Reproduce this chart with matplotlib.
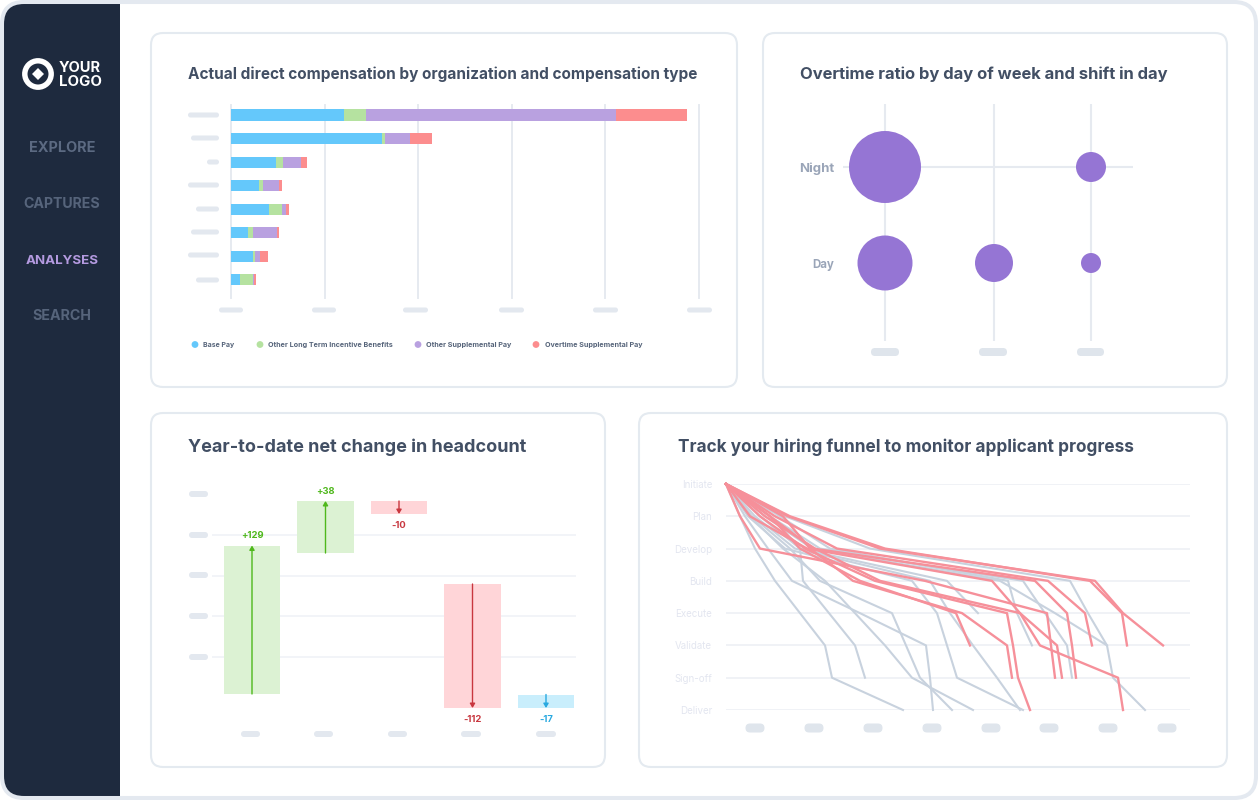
import matplotlib
matplotlib.use("Agg")
import matplotlib.pyplot as plt
from matplotlib.patches import FancyBboxPatch, Rectangle, Circle, Polygon
import numpy as np

W, H = 1258, 800
FONT = ["Inter", "Lato", "DejaVu Sans"]
plt.rcParams["font.family"] = FONT

# ---------- chart 1
orgs = list(range(8))
base_pay = [121, 161, 48, 30, 41, 18, 23, 10]
long_term = [23, 3, 8, 4, 14, 5, 3, 14]
supplemental = [267, 27, 19, 17, 4, 26, 5, 1]
overtime = [76, 24, 6, 4, 3, 2, 8, 2]
comp_names = ["Base Pay", "Other Long Term Incentive Benefits", "Other Supplemental Pay", "Overtime Supplemental Pay"]
comp_colors = ["#64c8fb", "#b5e2a0", "#b9a1e0", "#fc8d8e"]
comp_ticks = [0, 100, 200, 300, 400, 500]

# ---------- chart 2
bubble_rows = ["Night", "Day"]
bubble_cols = [0, 109, 206]
night_size = [36, 0, 15]
day_size = [27.5, 19, 10]

# ---------- chart 3
wf_low = [14, 155, 194, 0, 0]
wf_high = [162.5, 207, 207, 124, 13.5]
wf_dir = [1, 1, -1, -1, -1]
wf_text = ["+129", "+38", "-10", "-112", "-17"]
wf_ticks = [51, 92, 132, 173, 214]

# ---------- chart 4
stages = ["Initiate", "Plan", "Develop", "Build", "Execute", "Validate", "Sign-off", "Deliver"]
gray_paths = [
    [14, 29, 49, 74, 99, 106, 177],
    [44, 74, 77, 103, 129, 139],
    [19, 42, 66, 134, 200, 204, 207],
    [24, 57, 99, 129, 159, 186, 247],
    [26, 64, 94, 166, 180, 194, 226],
    [22, 59, 186, 211, 221, 231, 297],
    [29, 69, 204, 224, 247, 271, 294],
    [34, 74, 221, 252],
    [54, 104, 282, 291, 306],
    [59, 144, 344, 362, 381, 387, 419],
    [44, 94, 297, 319, 341, 346],
    [39, 86, 274, 329, 381],
]
red_paths = [
    [64, 159, 364, 396, 401],
    [62, 154, 369, 397, 437],
    [49, 111, 322, 359, 366],
    [44, 87, 309, 341, 346, 350],
    [24, 81, 266, 294, 314, 392, 397],
    [14, 34, 199, 321, 325, 329],
    [39, 89, 154, 294, 331, 336],
    [34, 79, 149, 281, 287, 292, 304],
    [57, 84, 127, 236, 281, 286],
    [44, 74, 134, 230, 244],
]

fig = plt.figure(figsize=(W / 100, H / 100), dpi=100, facecolor="white")
bg = fig.add_axes([0, 0, 1, 1])
bg.set_xlim(0, W)
bg.set_ylim(H, 0)
bg.axis("off")
renderer = fig.canvas.get_renderer()


def ptext(s, x, y, width=None, size=10, color="#424f64", ha="left", weight="bold"):
    t = bg.text(x, y, s, fontsize=size, color=color, ha=ha, va="center", fontweight=weight)
    if width:
        t.set_fontsize(size * width / t.get_window_extent(renderer).width)
    return t


def pill(x0, x1, y, h, color="#e3e8ef"):
    bg.add_patch(FancyBboxPatch((x0, y - h / 2), x1 - x0, h,
                                boxstyle=f"round,pad=0,rounding_size={h/2}", fc=color, ec=color, lw=0, zorder=3))


def make_ax(l, t, r, b):
    ax = fig.add_axes([l / W, 1 - b / H, (r - l) / W, (b - t) / H])
    ax.patch.set_alpha(0)
    for s in ax.spines.values():
        s.set_visible(False)
    ax.tick_params(length=0, labelbottom=False, labelleft=False)
    ax.set_axisbelow(True)
    return ax


def rbox(x0, y0, x1, y1, r, **kw):
    return FancyBboxPatch((x0 + r, y0 + r), x1 - x0 - 2 * r, y1 - y0 - 2 * r,
                          boxstyle=f"round,pad={r},rounding_size={r}", **kw)


# page
outer = rbox(2, 2, W - 2, H - 2, 22, fc="white", ec="none")
bg.add_patch(outer)
side = Rectangle((2, 2), 118, 796, fc="#1e2a3e", ec="none", zorder=1)
bg.add_patch(side)
side.set_clip_path(outer)
bg.add_patch(rbox(2, 2, W - 2, H - 2, 22, fc="none", ec="#e4e9f0", lw=2.9, zorder=6))

for x0, y0, x1, y1 in [(151, 33, 737, 387), (763, 33, 1227, 387), (151, 413, 605, 767), (639, 413, 1227, 767)]:
    bg.add_patch(rbox(x0, y0, x1, y1, 12, fc="white", ec="#e4eaf0", lw=1.5))

# sidebar
bg.add_patch(Circle((38, 74), 13.2, fc="none", ec="white", lw=3.9, zorder=4))
bg.add_patch(Polygon([(38, 68), (44, 74), (38, 80), (32, 74)], fc="white", ec="none", zorder=4))
ptext("YOUR", 59, 68, width=42, color="white").set_zorder(4)
ptext("LOGO", 59, 82, width=43, color="white").set_zorder(4)
for s, y, wd, c in [("EXPLORE", 148.5, 66, "#5c6a82"), ("CAPTURES", 204.5, 77, "#56647b"),
                    ("ANALYSES", 260.5, 73, "#b49ae0"), ("SEARCH", 316.5, 59, "#56647b")]:
    ptext(s, 62, y, width=wd, color=c, ha="center").set_zorder(4)

# titles
ptext("Actual direct compensation by organization and compensation type", 188, 74, width=508)
ptext("Overtime ratio by day of week and shift in day", 800, 74, width=370)
ptext("Year-to-date net change in headcount", 188, 447, width=338)
ptext("Track your hiring funnel to monitor applicant progress", 678, 447, width=455)

# ---------- chart 1
ax1 = make_ax(231, 105, 699, 298)
ax1.set_xlim(0, 500)
ax1.set_ylim((298 - 115) / 23.57, (105 - 115) / 23.57)
ax1.set_xticks(comp_ticks)
ax1.set_yticks([])
ax1.grid(axis="x", color="#e6eaf0", lw=1.4)
for x in ax1.get_xgridlines():
    x.set_clip_on(False)
left = np.zeros(len(orgs))
for vals, col, name in zip([base_pay, long_term, supplemental, overtime], comp_colors, comp_names):
    ax1.barh(orgs, vals, left=left, height=0.467, color=col, label=name, zorder=3)
    left += np.array(vals)
for y, x0 in zip([115, 138, 162, 185, 209, 232, 255, 280], [188, 191, 207, 188, 196, 191, 188, 196]):
    pill(x0, 219, y, 5)
for x0, x1 in [(219, 243), (312, 336), (403, 428), (499, 524), (593, 618), (687, 712)]:
    pill(x0, x1, 310, 5)
for (dx, tx, tw), name, col in zip([(195, 203, 31), (260, 268, 124), (418, 426, 85), (536, 545, 97)], comp_names, comp_colors):
    bg.add_patch(Circle((dx, 344.5), 3.4, fc=col, ec="none"))
    ptext(name, tx, 345, width=tw, color="#56647a")

# ---------- chart 2
ax2 = make_ax(775, 104, 1200, 341)
ax2.set_xlim(775 - 885, 1200 - 885)
ax2.set_ylim(341, 104)
ax2.vlines(bubble_cols, 104, 341, color="#e6eaf0", lw=1.5, zorder=1)
ax2.hlines([167], -42, 248, color="#e6eaf0", lw=1.5, zorder=1)
for yy, sizes in zip([167, 263], [night_size, day_size]):
    d = np.array(sizes) * 2 * 0.72
    ax2.scatter(bubble_cols, [yy] * 3, s=d ** 2, color="#9575d4", linewidths=0, zorder=3, clip_on=False)
ptext("Night", 834, 169, width=35, color="#9aa5b8", ha="right")
ptext("Day", 834, 265, width=22, color="#9aa5b8", ha="right")
for x0, x1 in [(871, 899), (979, 1007), (1077, 1104)]:
    pill(x0, x1, 352, 8, "#dfe5ec")

# ---------- chart 3
ax3 = make_ax(212, 480, 576, 708)
ax3.set_xlim((212 - 252) / 73.5, (576 - 252) / 73.5)
ax3.set_ylim(0, 228)
ax3.set_yticks(wf_ticks[:4])
ax3.set_xticks([])
ax3.grid(axis="y", color="#f0f2f7", lw=1.2)
wf_light = ["#dcf2d3", "#dcf2d3", "#ffd5d8", "#ffd5d8", "#c9eefc"]
wf_dark = ["#4fb81c", "#4fb81c", "#c8373f", "#c8373f", "#29a9e0"]
for i, (lo, hi, dr, txt) in enumerate(zip(wf_low, wf_high, wf_dir, wf_text)):
    ax3.bar(i, hi - lo, bottom=lo, width=0.775, color=wf_light[i], zorder=2, clip_on=False)
    start, end = (lo, hi) if dr > 0 else (hi, lo)
    ax3.annotate("", xy=(i, end), xytext=(i, start), zorder=4, annotation_clip=False,
                 arrowprops=dict(arrowstyle="-|>,head_width=0.15,head_length=0.25", lw=1.0,
                                 color=wf_dark[i], shrinkA=0, shrinkB=0))
    off = 10 if dr > 0 else -11
    ax3.text(i, (end if dr > 0 else lo) + off, txt, color=wf_dark[i], ha="center", va="center",
             fontsize=6.8, fontweight="bold", clip_on=False)
for y in [494, 535, 575, 616, 657]:
    pill(189, 208, y, 6)
for x0, x1 in [(241, 260), (314, 333), (388, 407), (461, 481), (536, 556)]:
    pill(x0, x1, 734, 6)

# ---------- chart 4
ax4 = make_ax(726, 484, 1190, 710)
ax4.set_xlim(0, 464)
ax4.set_ylim(len(stages) - 1, 0)
ax4.set_xticks([])
ax4.set_yticks(range(len(stages)))
ax4.set_yticklabels(stages)
ax4.tick_params(labelleft=True, pad=10, labelcolor="#e3e6f0", labelsize=7)
ax4.grid(axis="y", color="#eef0f5", lw=1.2)
for path in gray_paths:
    ax4.plot([0] + path, range(len(path) + 1), color="#c8d2de", lw=1.5, zorder=2, clip_on=False)
for path in red_paths:
    ax4.plot([0] + path, range(len(path) + 1), color="#f6909a", lw=1.7, zorder=3, clip_on=False)
for x in [755, 814, 873, 932, 991, 1049, 1108, 1167]:
    pill(x - 9.5, x + 9.5, 728, 9, "#dfe5ec")

fig.savefig("out.png", dpi=100, facecolor="white")
